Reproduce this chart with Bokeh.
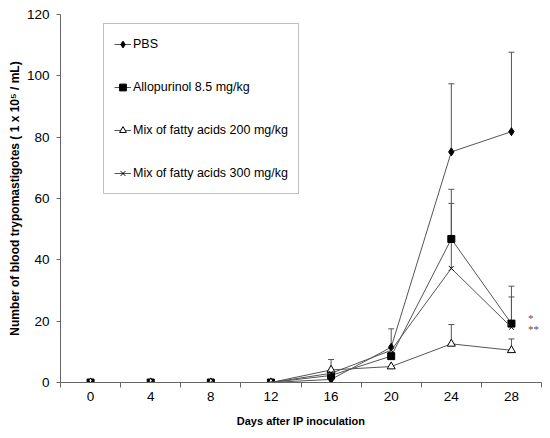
from bokeh.plotting import figure
from bokeh.models import (ColumnDataSource, Range1d, FixedTicker, Whisker, TeeHead)
from bokeh.embed import file_html
from bokeh.resources import INLINE

days = [0, 4, 8, 12, 16, 20, 24, 28]

pbs = [0, 0, 0, 0, 1.0, 11.5, 75.2, 81.8]
pbs_err = [0, 0, 0, 0, 0, 6.0, 22.2, 25.9]

allo = [0, 0, 0, 0, 2.3, 8.6, 46.8, 19.2]
allo_err = [0, 0, 0, 0, 0, 0, 16.2, 12.2]

fa200 = [0, 0, 0, 0, 4.1, 5.2, 12.6, 10.5]
fa200_err = [0, 0, 0, 0, 3.4, 0, 6.3, 3.7]

fa300 = [0, 0, 0, 0, 3.0, 10.5, 37.2, 18.0]
fa300_err = [0, 0, 0, 0, 0, 0, 21.2, 9.9]

series_names = ["PBS", "Allopurinol 8.5 mg/kg",
                "Mix of fatty acids 200 mg/kg", "Mix of fatty acids 300 mg/kg"]

sig_labels = ["*", "**"]
sig_y = [20.9, 17.6]

FONT = "Liberation Sans"
LINE = "#555555"

p = figure(width=550, height=438, output_backend="svg", toolbar_location=None,
           x_range=Range1d(-2, 30), y_range=Range1d(0, 120),
           min_border_left=60, min_border_right=9, min_border_top=14, min_border_bottom=56)
p.outline_line_color = None
p.xgrid.visible = False
p.ygrid.visible = False

series = [
    (pbs, pbs_err, "diamond", 8, "black", "black"),
    (allo, allo_err, "square", 7, "black", "black"),
    (fa200, fa200_err, "triangle", 8, "black", "white"),
    (fa300, fa300_err, "x", 7, "black", None),
]

for (vals, errs, marker, size, lc, fc), name in zip(series, series_names):
    # error bars first (upper only)
    ex = [d for d, e in zip(days, errs) if e > 0]
    ey = [v for v, e in zip(vals, errs) if e > 0]
    eu = [v + e for v, e in zip(vals, errs) if e > 0]
    esrc = ColumnDataSource(data=dict(x=ex, lower=ey, upper=eu))
    p.add_layout(Whisker(source=esrc, base="x", lower="lower", upper="upper",
                         line_color="#555555", line_width=1,
                         upper_head=TeeHead(size=6, line_color="#555555", line_width=1),
                         lower_head=None))
    p.line(days, vals, line_color=LINE, line_width=1, legend_label=name)
    if fc is None:
        p.scatter(days, vals, marker=marker, size=size, line_color=lc,
                  line_width=1, legend_label=name)
    else:
        p.scatter(days, vals, marker=marker, size=size, line_color=lc,
                  fill_color=fc, line_width=1, legend_label=name)

p.text(x=[days[-1] + 1.1] * len(sig_labels), y=sig_y, text=sig_labels,
       text_font=FONT, text_font_size="11px", text_color="#555555",
       text_baseline="middle", text_align="left")

# axes
p.xaxis.ticker = FixedTicker(ticks=days, minor_ticks=list(range(-2, 31, 4)))
p.xaxis.major_tick_out = 0
p.xaxis.major_tick_in = 0
p.xaxis.minor_tick_out = 5
p.xaxis.minor_tick_in = 0
p.xaxis.major_label_standoff = 4
p.xaxis.axis_label = "Days after IP inoculation"
p.xaxis.axis_label_standoff = 11

p.yaxis.ticker = FixedTicker(ticks=list(range(0, 121, 20)))
p.yaxis.major_tick_out = 4
p.yaxis.major_tick_in = 0
p.yaxis.minor_tick_line_color = None
p.yaxis.major_label_standoff = 7
p.yaxis.axis_label = "Number of blood trypomastigotes ( 1 x 10\u2075 / mL)"
p.yaxis.axis_label_standoff = 2

for ax in (p.xaxis[0], p.yaxis[0]):
    ax.axis_line_color = "#666666"
    ax.major_tick_line_color = "#666666"
    ax.minor_tick_line_color = "#666666" if ax is p.xaxis[0] else None
    ax.major_label_text_font = FONT
    ax.major_label_text_font_size = "13.5px"
    ax.major_label_text_color = "black"
    ax.axis_label_text_font = FONT
    ax.axis_label_text_font_style = "bold"
    ax.axis_label_text_color = "black"
p.xaxis.axis_label_text_font_size = "11px"
p.yaxis.axis_label_text_font_size = "12px"

leg = p.legend[0]
leg.location = (43, 188)
leg.label_text_font = FONT
leg.label_text_font_size = "12.5px"
leg.label_text_color = "black"
leg.glyph_width = 17
leg.glyph_height = 20
leg.label_standoff = 2
leg.padding = 10
leg.spacing = 23
leg.margin = 0
leg.border_line_color = "#808080"
leg.border_line_width = 1
leg.background_fill_alpha = 1

open("out.html", "w").write(file_html(p, INLINE))
